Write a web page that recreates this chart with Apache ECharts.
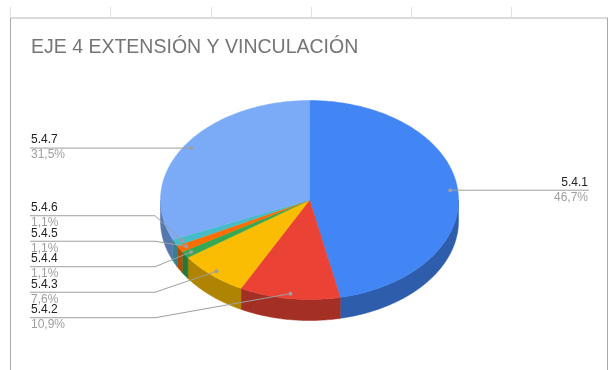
<!DOCTYPE html>
<html>
<head>
<meta charset="utf-8">
<script src="https://cdn.jsdelivr.net/npm/echarts@6/dist/echarts.min.js"></script>
<style>
  html, body { margin: 0; padding: 0; background: #ffffff; }
  #chart { width: 608px; height: 370px; }
</style>
</head>
<body>
<div id="chart"></div>
<script>
// ---- data ----
const chartTitle = 'EJE 4 EXTENSIÓN Y VINCULACIÓN';
const categories = ['5.4.1', '5.4.2', '5.4.3', '5.4.4', '5.4.5', '5.4.6', '5.4.7'];
const shares = [46.7, 10.9, 7.6, 1.1, 1.1, 1.1, 31.5];
const sliceColors = ['#4285F4', '#EA4335', '#FBBC04', '#34A853', '#FF6D01', '#46BDC6', '#7BAAF7'];

// ---- layout ----
const PIE = { cx: 309.5, cy: 200, rx: 149, ry: 99.5, depth: 21 };
const LABEL = { leftX: 31, rightX: 588, elbowX: 155, gap: 25.5, dotK: 0.95, clusterShift: 6 };
const FONT = '"Liberation Sans", Arial, sans-serif';

// slice angles, clockwise from 12 o'clock
const total = shares.reduce((a, b) => a + b, 0);
const slices = [];
{
  let acc = 0;
  shares.forEach((v) => {
    const a0 = acc / total * Math.PI * 2;
    acc += v;
    const a1 = acc / total * Math.PI * 2;
    slices.push({ a0, a1, mid: (a0 + a1) / 2 });
  });
}

function pt(a, k, dy) {
  return [PIE.cx + k * PIE.rx * Math.sin(a), PIE.cy - k * PIE.ry * Math.cos(a) + (dy || 0)];
}
function arc(a0, a1, dy) {
  const n = Math.max(2, Math.ceil((a1 - a0) / 0.015));
  const out = [];
  for (let i = 0; i <= n; i++) out.push(pt(a0 + (a1 - a0) * i / n, 1, dy));
  return out;
}
function shade(hex, f) {
  const n = parseInt(hex.slice(1), 16);
  const r = Math.round(((n >> 16) & 255) * f);
  const g = Math.round(((n >> 8) & 255) * f);
  const b = Math.round((n & 255) * f);
  return 'rgb(' + r + ',' + g + ',' + b + ')';
}
function pctText(v) {
  return (v / total * 100).toFixed(1).replace('.', ',') + '%';
}

// label placement: start at the anchor dot height, then spread overlapping groups
const labels = slices.map((s, i) => {
  const dot = pt(s.mid, LABEL.dotK);
  return { i, dot, left: Math.sin(s.mid) < 0, y: dot[1], natural: dot[1] };
});
function spread(list) {
  list.sort((a, b) => a.natural - b.natural);
  const clusters = list.map((l) => [l]);
  const place = (c) => {
    const mean = c.reduce((s, l) => s + l.natural, 0) / c.length + (c.length > 1 ? LABEL.clusterShift : 0);
    c.forEach((l, k) => { l.y = mean + (k - (c.length - 1) / 2) * LABEL.gap; });
  };
  clusters.forEach(place);
  let changed = true;
  while (changed) {
    changed = false;
    for (let k = 0; k < clusters.length - 1; k++) {
      const a = clusters[k], b = clusters[k + 1];
      if (b[0].y - a[a.length - 1].y < LABEL.gap) {
        clusters.splice(k, 2, a.concat(b));
        place(clusters[k]);
        changed = true;
        break;
      }
    }
  }
}
spread(labels.filter((l) => l.left));
spread(labels.filter((l) => !l.left));

function renderSlice(params, api) {
  const i = params.dataIndex;
  const s = slices[i];
  const color = sliceColors[i];
  const children = [];

  // front side wall (visible between 3 and 9 o'clock)
  const w0 = Math.max(s.a0, Math.PI / 2), w1 = Math.min(s.a1, Math.PI * 1.5);
  if (w1 > w0) {
    const topEdge = arc(w0, w1, 0);
    const botEdge = arc(w0, w1, PIE.depth).reverse();
    children.push({
      type: 'polygon', z2: 1,
      shape: { points: topEdge.concat(botEdge) },
      style: { fill: shade(color, 0.7), stroke: shade(color, 0.7), lineWidth: 0.5 }
    });
  }

  // top face
  children.push({
    type: 'polygon', z2: 2,
    shape: { points: [[PIE.cx, PIE.cy]].concat(arc(s.a0, s.a1, 0)) },
    style: { fill: color, stroke: color, lineWidth: 0.5 }
  });

  // leader line, anchor dot and texts
  const l = labels[i];
  let line;
  if (l.left) {
    line = Math.abs(l.y - l.dot[1]) < 1
      ? [[LABEL.leftX - 1, l.y], l.dot]
      : [[LABEL.leftX - 1, l.y], [LABEL.elbowX, l.y], l.dot];
  } else {
    line = [l.dot, [LABEL.rightX + 1, l.y]];
  }
  children.push({
    type: 'polyline', z2: 3,
    shape: { points: line },
    style: { stroke: '#9e9e9e', lineWidth: 1, fill: null }
  });
  children.push({
    type: 'circle', z2: 4,
    shape: { cx: l.dot[0], cy: l.dot[1], r: 2 },
    style: { fill: '#9e9e9e' }
  });
  const tx = l.left ? LABEL.leftX : LABEL.rightX;
  const align = l.left ? 'left' : 'right';
  children.push({
    type: 'text', z2: 5, x: tx, y: l.y - 8,
    style: { text: categories[i], fill: '#222222', font: '12px ' + FONT, align, verticalAlign: 'middle' }
  });
  children.push({
    type: 'text', z2: 5, x: tx, y: l.y + 7,
    style: { text: pctText(shares[i]), fill: '#9e9e9e', font: '12px ' + FONT, align, verticalAlign: 'middle' }
  });

  return { type: 'group', children };
}

// spreadsheet frame behind the chart
const gridXs = [10, 110, 211, 311, 411, 511];
const frame = gridXs.map((x) => ({
  type: 'line', z: -10, silent: true,
  shape: { x1: x + 0.5, y1: 7, x2: x + 0.5, y2: 17 },
  style: { stroke: '#e2e2e2', lineWidth: 1 }
})).concat([
  { type: 'line', z: -9, silent: true, shape: { x1: 10, y1: 18, x2: 608, y2: 18 }, style: { stroke: '#cfcfcf', lineWidth: 1.5 } },
  { type: 'line', z: -9, silent: true, shape: { x1: 10.5, y1: 18, x2: 10.5, y2: 370 }, style: { stroke: '#a8a8a8', lineWidth: 1 } },
  { type: 'line', z: -9, silent: true, shape: { x1: 607.5, y1: 18, x2: 607.5, y2: 370 }, style: { stroke: '#a8a8a8', lineWidth: 1 } }
]);

const chart = echarts.init(document.getElementById('chart'), null, { renderer: 'canvas' });
chart.setOption({
  animation: false,
  backgroundColor: '#ffffff',
  title: {
    text: chartTitle,
    left: 26, top: 33,
    textStyle: { fontFamily: FONT, fontSize: 19.5, fontWeight: 'normal', color: '#757575' }
  },
  graphic: frame,
  series: [{
    type: 'custom',
    coordinateSystem: 'none',
    silent: true,
    renderItem: renderSlice,
    data: shares.map((v, i) => ({ value: v, name: categories[i] }))
  }]
});
</script>
</body>
</html>
